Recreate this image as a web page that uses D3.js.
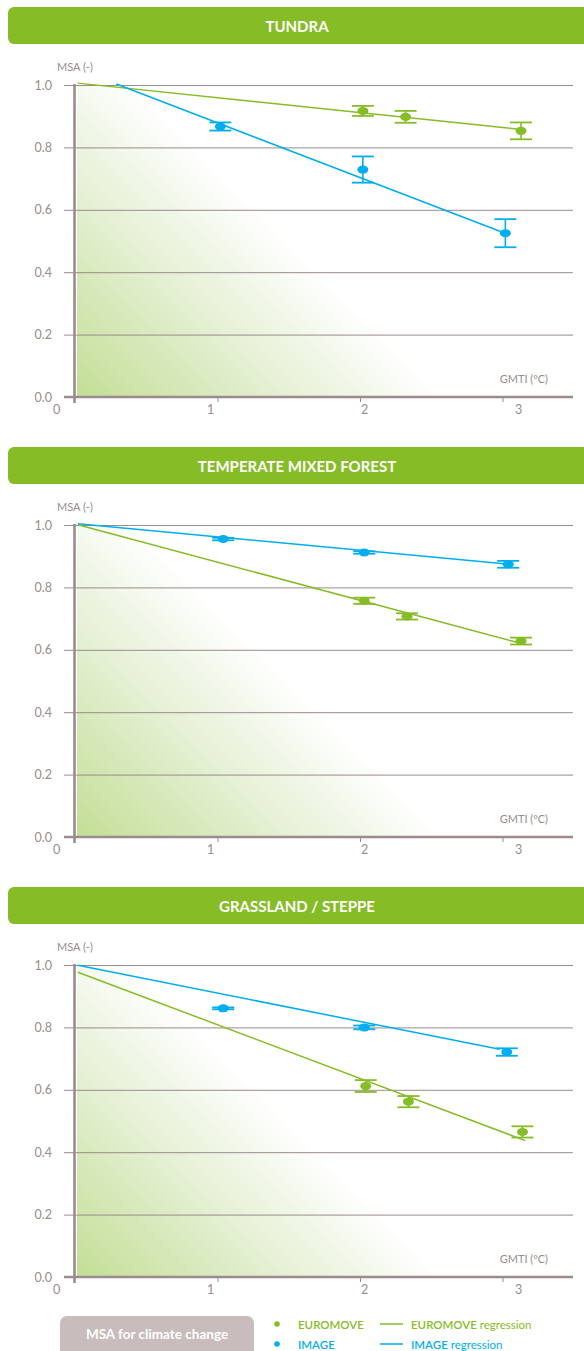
<!DOCTYPE html>
<html>
<head>
<meta charset="utf-8">
<script src="https://cdn.jsdelivr.net/npm/d3@7"></script>
<style>
  html, body { margin: 0; padding: 0; background: #ffffff; }
  svg { display: block; font-family: Lato, "Noto Sans", sans-serif; }
</style>
</head>
<body>
<svg id="chart" width="584" height="1351"></svg>
<script>
// ---------------- DATA ----------------
const panelTitles = ["TUNDRA", "TEMPERATE MIXED FOREST", "GRASSLAND / STEPPE"];
const yTickValues = [0, 0.2, 0.4, 0.6, 0.8, 1.0];
const yTickLabels = ["0.0", "0.2", "0.4", "0.6", "0.8", "1.0"];
const xTickValues = [1, 2, 3];
const xTickLabels = ["0", "1", "2", "3"];

// EUROMOVE points (GMTI, MSA, error) per panel
const euromoveGMTI = [[2.02, 2.32, 3.13], [2.03, 2.33, 3.13], [2.04, 2.34, 3.14]];
const euromoveMSA  = [[0.917, 0.898, 0.853], [0.757, 0.707, 0.628], [0.612, 0.562, 0.465]];
const euromoveErr  = [[0.016, 0.019, 0.027], [0.010, 0.010, 0.011], [0.019, 0.018, 0.018]];

// IMAGE points per panel
const imageGMTI = [[1.02, 2.02, 3.02], [1.04, 2.03, 3.04], [1.04, 2.03, 3.03]];
const imageMSA  = [[0.867, 0.729, 0.525], [0.955, 0.912, 0.874], [0.861, 0.800, 0.721]];
const imageErr  = [[0.013, 0.042, 0.045], [0.004, 0.004, 0.011], [0.003, 0.006, 0.012]];

// Regression line endpoints per panel
const euromoveRegGMTI = [[0.02, 3.10], [0.02, 3.10], [0.02, 3.16]];
const euromoveRegMSA  = [[1.006, 0.859], [1.001, 0.624], [0.977, 0.437]];
const imageRegGMTI    = [[0.29, 3.00], [0.02, 3.03], [0.02, 2.98]];
const imageRegMSA     = [[1.003, 0.528], [1.004, 0.875], [0.999, 0.730]];

const legendItems = ["EUROMOVE", "IMAGE"];
const legendTitle = "MSA for climate change";

// ---------------- STYLE ----------------
const GREEN = "#86bc25";
const BLUE = "#00aeef";
const AXIS = "#9b8b8c";
const panelOffsets = [0, 440, 880];

const svg = d3.select("#chart");

const defs = svg.append("defs");
const grad = defs.append("linearGradient")
  .attr("id", "fade")
  .attr("gradientUnits", "userSpaceOnUse")
  .attr("x1", 76).attr("y1", 397)
  .attr("x2", 262).attr("y2", 212);
grad.append("stop").attr("offset", 0).attr("stop-color", "#c3de95");
grad.append("stop").attr("offset", 0.5).attr("stop-color", "#e1eecd");
grad.append("stop").attr("offset", 1).attr("stop-color", "#ffffff");

// scales
const x = d3.scaleLinear().domain([0, 3.5]).range([75, 573.75]);
const xLab = d3.scaleLinear().domain([0, 3]).range([56, 518]);
const y = d3.scaleLinear().domain([0, 1]).range([397, 85]);

panelTitles.forEach((title, p) => {
  const g = svg.append("g").attr("transform", `translate(0,${panelOffsets[p]})`);

  // header bar
  g.append("rect")
    .attr("x", 8).attr("y", 7).attr("width", 590).attr("height", 37)
    .attr("rx", 6).attr("fill", GREEN);
  g.append("text")
    .attr("x", 297).attr("y", 26)
    .attr("text-anchor", "middle").attr("dominant-baseline", "central")
    .attr("fill", "#ffffff").attr("font-weight", 700).attr("font-size", 15)
    .text(title);

  // gradient area
  g.append("rect")
    .attr("x", 77).attr("y", y(1))
    .attr("width", 496).attr("height", y(0) - y(1))
    .attr("fill", "url(#fade)");

  // gridlines via axis
  const yAxis = d3.axisLeft(y)
    .tickValues(yTickValues)
    .tickSize(-(573 - 64))
    .tickFormat((d, i) => yTickLabels[i]);
  const ya = g.append("g").attr("transform", "translate(64,0)").call(yAxis);
  ya.select(".domain").remove();
  ya.selectAll(".tick line").attr("stroke", AXIS).attr("stroke-width", 1)
    .attr("x1", 0).attr("x2", 573 - 64);
  ya.selectAll(".tick text")
    .attr("x", -12).attr("fill", AXIS)
    .attr("font-size", 12.5).attr("font-family", "Lato, sans-serif");

  // x axis baseline (thicker)
  g.append("line")
    .attr("x1", 64).attr("x2", 573)
    .attr("y1", y(0)).attr("y2", y(0))
    .attr("stroke", AXIS).attr("stroke-width", 2.6);

  // x tick marks
  const xAxis = d3.axisBottom(x).tickValues(xTickValues).tickSize(5).tickFormat("");
  const xa = g.append("g").attr("transform", `translate(0,${y(0)})`).call(xAxis);
  xa.select(".domain").remove();
  xa.selectAll(".tick line").attr("stroke", AXIS).attr("stroke-width", 1);

  // x tick labels
  const xLabAxis = d3.axisBottom(xLab).tickValues([0, 1, 2, 3]).tickSize(0)
    .tickFormat((d, i) => xTickLabels[i]);
  const xl = g.append("g").attr("transform", `translate(0,${y(0) + 13})`).call(xLabAxis);
  xl.select(".domain").remove();
  xl.selectAll(".tick text").attr("fill", AXIS).attr("font-size", 12.5)
    .attr("font-family", "Lato, sans-serif").attr("y", 0).attr("dy", "0.32em");

  // y axis vertical line
  g.append("line")
    .attr("x1", x(0) - 0.5).attr("x2", x(0) - 0.5)
    .attr("y1", y(1) - 1).attr("y2", y(0) + 6)
    .attr("stroke", AXIS).attr("stroke-width", 2.6);

  // axis titles
  g.append("text").attr("x", 57).attr("y", 66)
    .attr("dominant-baseline", "central")
    .attr("fill", AXIS).attr("font-size", 11).text("MSA (-)");
  g.append("text").attr("x", 548).attr("y", 378)
    .attr("text-anchor", "end").attr("dominant-baseline", "central")
    .attr("fill", AXIS).attr("font-size", 11).text("GMTI (ºC)");

  // regression lines
  const line = d3.line().x(d => x(d[0])).y(d => y(d[1]));
  const eReg = euromoveRegGMTI[p].map((v, i) => [v, euromoveRegMSA[p][i]]);
  const iReg = imageRegGMTI[p].map((v, i) => [v, imageRegMSA[p][i]]);
  g.append("path").attr("d", line(eReg)).attr("fill", "none")
    .attr("stroke", GREEN).attr("stroke-width", 1.5);
  g.append("path").attr("d", line(iReg)).attr("fill", "none")
    .attr("stroke", BLUE).attr("stroke-width", 1.5);

  // points with error bars
  const series = [
    { gx: euromoveGMTI[p], gy: euromoveMSA[p], ge: euromoveErr[p], c: GREEN },
    { gx: imageGMTI[p], gy: imageMSA[p], ge: imageErr[p], c: BLUE }
  ];
  series.forEach(s => {
    const pts = s.gx.map((v, i) => ({ gx: v, gy: s.gy[i], e: s.ge[i] }));
    const pg = g.append("g").selectAll("g").data(pts).join("g");
    pg.append("line")
      .attr("x1", d => x(d.gx)).attr("x2", d => x(d.gx))
      .attr("y1", d => y(d.gy - d.e)).attr("y2", d => y(d.gy + d.e))
      .attr("stroke", s.c).attr("stroke-width", 1.6);
    [1, -1].forEach(sign => {
      pg.append("line")
        .attr("x1", d => x(d.gx) - 11).attr("x2", d => x(d.gx) + 11)
        .attr("y1", d => y(d.gy + sign * d.e)).attr("y2", d => y(d.gy + sign * d.e))
        .attr("stroke", s.c).attr("stroke-width", 1.8);
    });
    pg.append("ellipse")
      .attr("cx", d => x(d.gx)).attr("cy", d => y(d.gy))
      .attr("rx", 5.5).attr("ry", 4)
      .attr("fill", s.c);
  });
});

// ---------------- LEGEND ----------------
const lg = svg.append("g");
lg.append("rect").attr("x", 60).attr("y", 1316).attr("width", 194).attr("height", 50)
  .attr("rx", 7).attr("fill", "#c8bcbc");
lg.append("text").attr("x", 157).attr("y", 1334)
  .attr("text-anchor", "middle").attr("dominant-baseline", "central")
  .attr("fill", "#ffffff").attr("font-weight", 700).attr("font-size", 13.5)
  .text(legendTitle);

const legColors = [GREEN, BLUE];
const legY = d3.scalePoint().domain(legendItems).range([1324, 1344]);
legendItems.forEach((name, i) => {
  const c = legColors[i];
  const yy = legY(name);
  lg.append("circle").attr("cx", 277).attr("cy", yy).attr("r", 2.8).attr("fill", c);
  lg.append("text").attr("x", 298).attr("y", yy).attr("dominant-baseline", "central")
    .attr("fill", c).attr("font-size", 11.5).attr("font-weight", 600).text(name);
  lg.append("line").attr("x1", 380).attr("x2", 403).attr("y1", yy).attr("y2", yy)
    .attr("stroke", c).attr("stroke-width", 1.5);
  const t = lg.append("text").attr("x", 411).attr("y", yy).attr("dominant-baseline", "central")
    .attr("fill", c).attr("font-size", 11.5);
  t.append("tspan").attr("font-weight", 600).text(name);
  t.append("tspan").attr("font-weight", 400).text(" regression");
});
</script>
</body>
</html>
